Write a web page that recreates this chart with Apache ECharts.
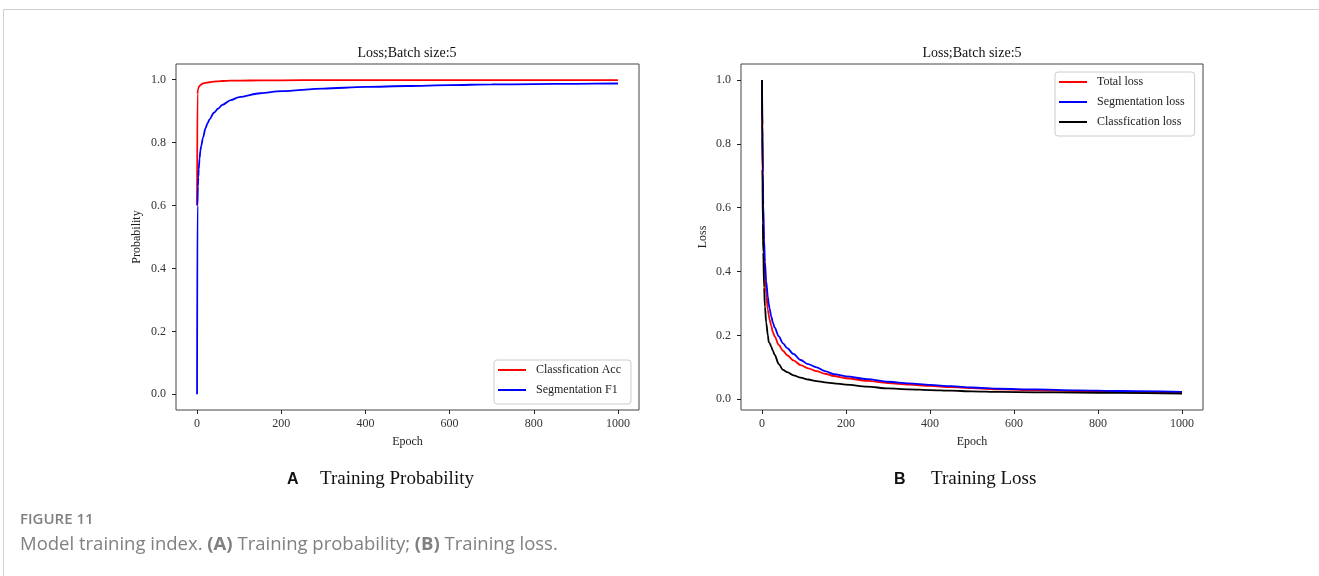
<!DOCTYPE html>
<html>
<head>
<meta charset="utf-8">
<script src="https://cdn.jsdelivr.net/npm/echarts@6/dist/echarts.min.js"></script>
<style>
  html, body { margin: 0; padding: 0; background: #fff; }
  #chart { width: 1319px; height: 576px; }
</style>
</head>
<body>
<div id="chart"></div>
<script>
// panel A: training probability
const epochsA = [0, 1, 2, 3, 4, 6, 8, 10, 14, 20, 25, 30, 40, 50, 60, 80, 100, 150, 200, 300, 400, 500, 600, 700, 800, 900, 1000]
const clsAcc = [0.6, 0.955, 0.966, 0.972, 0.976, 0.98, 0.983, 0.985, 0.988, 0.99, 0.991, 0.992, 0.994, 0.995, 0.996, 0.997, 0.997, 0.998, 0.998, 0.999, 0.999, 0.999, 0.999, 0.999, 0.999, 0.999, 0.999]
const segF1 = [0, 0.6, 0.66, 0.69, 0.715, 0.75, 0.775, 0.79, 0.815, 0.845, 0.862, 0.875, 0.895, 0.908, 0.92, 0.935, 0.945, 0.957, 0.964, 0.972, 0.977, 0.98, 0.983, 0.985, 0.986, 0.987, 0.988]

// panel B: training loss
const epochsB = [0, 1, 2, 3, 5, 7, 10, 14, 16, 18, 22, 26, 30, 40, 50, 60, 75, 92, 110, 130, 150, 171, 200, 250, 300, 350, 400, 450, 500, 566, 650, 750, 850, 1000]
const totalLoss = [1.0, 0.82, 0.66, 0.56, 0.45, 0.39, 0.33, 0.28, 0.265, 0.25, 0.23, 0.21, 0.197, 0.17, 0.152, 0.138, 0.122, 0.107, 0.097, 0.088, 0.08, 0.073, 0.066, 0.058, 0.051, 0.046, 0.042, 0.038, 0.035, 0.031, 0.028, 0.026, 0.024, 0.021]
const segLoss = [1.0, 0.86, 0.71, 0.61, 0.5, 0.43, 0.37, 0.32, 0.3, 0.285, 0.26, 0.24, 0.225, 0.197, 0.175, 0.16, 0.142, 0.123, 0.11, 0.1, 0.088, 0.079, 0.072, 0.063, 0.055, 0.05, 0.045, 0.041, 0.037, 0.033, 0.031, 0.028, 0.026, 0.023]
const clsLoss = [1.0, 0.72, 0.55, 0.46, 0.35, 0.29, 0.24, 0.2, 0.179, 0.177, 0.165, 0.152, 0.14, 0.11, 0.092, 0.085, 0.075, 0.068, 0.062, 0.057, 0.053, 0.05, 0.046, 0.04, 0.034, 0.031, 0.029, 0.027, 0.025, 0.023, 0.022, 0.021, 0.02, 0.018]

const xTicks = [0, 200, 400, 600, 800, 1000]
const yTicks = [0, 0.2, 0.4, 0.6, 0.8, 1.0]

const serif = 'Liberation Serif'
const sans = 'Open Sans'

const pairs = (xs, ys) => xs.map((x, i) => [x, ys[i]])

function xAxis (gridIndex) {
  return {
    type: 'value',
    gridIndex,
    min: -50,
    max: 1050,
    axisLine: { show: false, onZero: false },
    axisTick: { show: true, customValues: xTicks, length: 4, lineStyle: { color: '#222' } },
    axisLabel: { customValues: xTicks, margin: 8, fontFamily: serif, fontSize: 12, color: '#333', formatter: v => String(v) },
    splitLine: { show: false },
    name: 'Epoch',
    nameLocation: 'middle',
    nameGap: 26,
    nameTextStyle: { fontFamily: serif, fontSize: 12, color: '#222' }
  }
}

function yAxis (gridIndex, min, max, name, gap) {
  return {
    type: 'value',
    gridIndex,
    min,
    max,
    axisLine: { show: false, onZero: false },
    axisTick: { show: true, customValues: yTicks, length: 4, lineStyle: { color: '#222' } },
    axisLabel: { customValues: yTicks, margin: 10, fontFamily: serif, fontSize: 12, color: '#333', formatter: v => v.toFixed(1) },
    splitLine: { show: false },
    name,
    nameLocation: 'middle',
    nameGap: gap,
    nameTextStyle: { fontFamily: serif, fontSize: 12, color: '#222' }
  }
}

function line (name, data, color, idx) {
  return {
    name,
    type: 'line',
    xAxisIndex: idx,
    yAxisIndex: idx,
    data,
    showSymbol: false,
    smooth: 0.3,
    smoothMonotone: 'x',
    lineStyle: { color, width: 1.8 },
    itemStyle: { color },
    animation: false
  }
}

function legend (names, left, top) {
  return {
    data: names,
    orient: 'vertical',
    left,
    top,
    icon: 'rect',
    itemWidth: 28,
    itemHeight: 2,
    itemGap: 6,
    padding: [3, 10, 7, 4],
    backgroundColor: '#fff',
    borderColor: '#ccc',
    borderWidth: 1,
    borderRadius: 3,
    textStyle: { fontFamily: serif, fontSize: 12, color: '#222', lineHeight: 14, padding: [0, 0, 0, 5] }
  }
}

function caption (text, left, top, style) {
  return { text, left, top, padding: 0, textStyle: Object.assign({ fontWeight: 'normal', color: '#111' }, style) }
}

const chart = echarts.init(document.getElementById('chart'))
chart.setOption({
  backgroundColor: '#fff',
  animation: false,
  title: [
    { text: 'Loss;Batch size:5', left: 407, top: 46, padding: 0, textAlign: 'center', textStyle: { fontFamily: serif, fontSize: 14, fontWeight: 'normal', color: '#111' } },
    { text: 'Loss;Batch size:5', left: 972, top: 46, padding: 0, textAlign: 'center', textStyle: { fontFamily: serif, fontSize: 14, fontWeight: 'normal', color: '#111' } },
    caption('A', 287, 472, { fontFamily: 'Liberation Sans', fontSize: 16, fontWeight: 'bold' }),
    caption('Training Probability', 320, 470, { fontFamily: serif, fontSize: 19 }),
    caption('B', 894, 472, { fontFamily: 'Liberation Sans', fontSize: 16, fontWeight: 'bold' }),
    caption('Training Loss', 931, 470, { fontFamily: serif, fontSize: 19 }),
    caption('FIGURE 11', 20, 512, { fontFamily: sans, fontSize: 15, fontWeight: 600, color: '#808080' }),
    {
      text: 'Model training index. {b|(A)} Training probability; {b|(B)} Training loss.',
      left: 20,
      top: 535,
      padding: 0,
      textStyle: {
        fontFamily: sans, fontSize: 18.5, fontWeight: 'normal', color: '#808080',
        rich: { b: { fontFamily: sans, fontSize: 18.5, fontWeight: 'bold', color: '#808080' } }
      }
    }
  ],
  graphic: [
    { type: 'rect', shape: { x: 3.5, y: 9.5, width: 1400, height: 700 }, style: { fill: 'none', stroke: '#d0d0d0', lineWidth: 1 }, z: -1 }
  ],
  grid: [
    { left: 176, top: 64, width: 463, height: 346, show: true, borderColor: '#444', borderWidth: 1 },
    { left: 741, top: 64, width: 462, height: 346, show: true, borderColor: '#444', borderWidth: 1 }
  ],
  legend: [
    legend(['Classfication Acc', 'Segmentation F1'], 494, 360),
    legend(['Total loss', 'Segmentation loss', 'Classfication loss'], 1055, 72)
  ],
  xAxis: [xAxis(0), xAxis(1)],
  yAxis: [
    yAxis(0, -0.05, 1.05, 'Probability', 33),
    yAxis(1, -0.0335, 1.05, 'Loss', 32)
  ],
  series: [
    line('Classfication Acc', pairs(epochsA, clsAcc), '#ff0000', 0),
    line('Segmentation F1', pairs(epochsA, segF1), '#0000ff', 0),
    line('Total loss', pairs(epochsB, totalLoss), '#ff0000', 1),
    line('Segmentation loss', pairs(epochsB, segLoss), '#0000ff', 1),
    line('Classfication loss', pairs(epochsB, clsLoss), '#000000', 1)
  ]
})
</script>
</body>
</html>
